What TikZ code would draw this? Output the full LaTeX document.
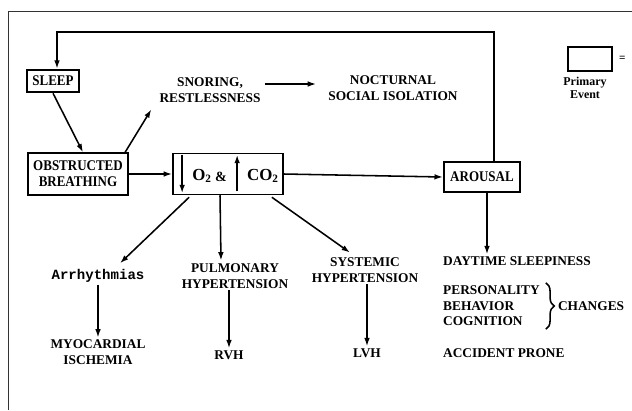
\documentclass[tikz,border=0pt]{standalone}
\usepackage{fontspec}
\setmainfont{Liberation Serif}
\newfontfamily\figfont{Liberation Serif Bold}
\newfontfamily\boxfont{Liberation Serif Bold}[FakeStretch=0.88]
\newfontfamily\arrfont{Liberation Mono Bold}
\usetikzlibrary{arrows.meta,positioning,calc,decorations.pathreplacing}

\begin{document}
\begin{tikzpicture}[
    x=0.025cm, y=-0.025cm,
    >={Latex[length=6pt,width=4pt]},
    line width=1.1pt,
    box/.style={rectangle, draw, line width=1.5pt, align=center, inner sep=1pt, font=\boxfont\fontsize{10.5}{11.5}\selectfont},
    lbl/.style={align=center, inner sep=1pt, font=\figfont\fontsize{9.5}{11}\selectfont},
    lft/.style={lbl, anchor=west, align=left}
]
    % frame
    \useasboundingbox (0,0) rectangle (632,410);
    \draw[line width=0.7pt, black!80] (8,410) -- (8,11) -- (632,11);

    % boxes
    \node[box, minimum width=1.3cm, minimum height=0.56cm] (sleep) at (53,81) {SLEEP};
    \node[box, minimum width=2.5cm, minimum height=1.03cm] (obst) at (78,174) {OBSTRUCTED\\BREATHING};
    \node[draw, line width=1.2pt, minimum width=2.75cm, minimum height=1.02cm] (gas) at (228,174) {};
    \node[box, minimum width=1.9cm, minimum height=0.75cm] (arousal) at (482,177) {AROUSAL};

    % inside the gas box
    \node[lbl, font=\figfont\fontsize{12}{13}\selectfont] (o2) at (202,176) {O\textsubscript{2}};
    \node[lbl, font=\figfont\fontsize{10}{11}\selectfont] (amp) at (221,177) {\&};
    \node[lbl, font=\figfont\fontsize{12}{13}\selectfont] (co2) at (263,176) {CO\textsubscript{2}};
    \draw[->, line width=1.2pt] ($(gas.north west)+(10,2)$) -- ($(gas.south west)+(10,-2)$);
    \draw[->, line width=1.6pt] ($(gas.south west)+(65,-4)$) -- ($(gas.north west)+(65,2)$);

    % labels
    \node[lbl] (snoring) at (210,90) {SNORING,\\RESTLESSNESS};
    \node[lbl] (noct) at (393,88) {NOCTURNAL\\SOCIAL ISOLATION};
    \node[lbl, font=\arrfont\fontsize{10}{11}\selectfont] (arr) at (98,276) {Arrhythmias};
    \node[lbl] (pulm) at (235,276) {PULMONARY\\HYPERTENSION};
    \node[lbl] (syst) at (365,270) {SYSTEMIC\\HYPERTENSION};
    \node[lbl] (myo) at (98,352) {MYOCARDIAL\\ISCHEMIA};
    \node[lbl] (rvh) at (229,355) {RVH};
    \node[lbl] (lvh) at (367,353) {LVH};
    \node[lft] (day) at (441,261) {DAYTIME SLEEPINESS};
    \node[lft] (pers) at (441,306) {PERSONALITY\\BEHAVIOR\\COGNITION};
    \node[lft] (acc) at (441,353) {ACCIDENT PRONE};

    % brace
    \coordinate (brtop) at ($(pers.north east)+(4,-1)$);
    \coordinate (brbot) at ($(pers.south east)+(4,1)$);
    \draw[decorate, decoration={brace, amplitude=6pt}, line width=1.1pt] (brtop) -- (brbot);
    \node[lbl, anchor=west] (chg) at ($(brtop)!0.5!(brbot)+(10,0)$) {CHANGES};

    % legend
    \node[box, line width=1.3pt, minimum width=1.1cm, minimum height=0.62cm] (legbox) at (590,59) {};
    \node[lbl, anchor=west, font=\figfont\fontsize{8}{8}\selectfont] (legeq) at ($(legbox.east)+(4,0)$) {=};
    \node[lbl, font=\figfont\fontsize{8.5}{9.5}\selectfont] (legtxt) at (585,88) {Primary\\Event};

    % loop back to sleep
    \coordinate (looptr) at (494,32);
    \coordinate (looptl) at (57,32);
    \draw[->] (arousal.north -| looptr) -- (looptr) -- (looptl) -- (looptl |- sleep.north);

    % arrows
    \draw[->] (sleep.south) -- ($(obst.north)+(5,0)$);
    \draw[->] ($(obst.north east)+(-4,0)$) -- ($(snoring.south west)+(-6,5)$);
    \draw[->] ($(snoring.east)+(2,-6)$) -- ($(noct.west)+(-10,-4)$);
    \draw[->] (obst.east) -- (gas.west);
    \draw[->] (gas.east) -- (arousal.west);
    \draw[->] ($(gas.south west)+(17,2)$) -- ($(arr.north)+(22,-4)$);
    \draw[->] ($(gas.south)+(-8,0)$) -- ($(pulm.north)+(-14,-1)$);
    \draw[->] ($(gas.south east)+(-12,2)$) -- ($(syst.north)+(-15,-3)$);
    \draw[->] (arr.south) -- (myo.north);
    \draw[->] (pulm.south -| rvh.north) -- (rvh.north);
    \draw[->] (syst.south -| lvh.north) -- (lvh.north);
    \draw[->] ($(arousal.south)+(5,0)$) -- ($(arousal.south |- day.north)+(5,0)$);
\end{tikzpicture}
\end{document}
